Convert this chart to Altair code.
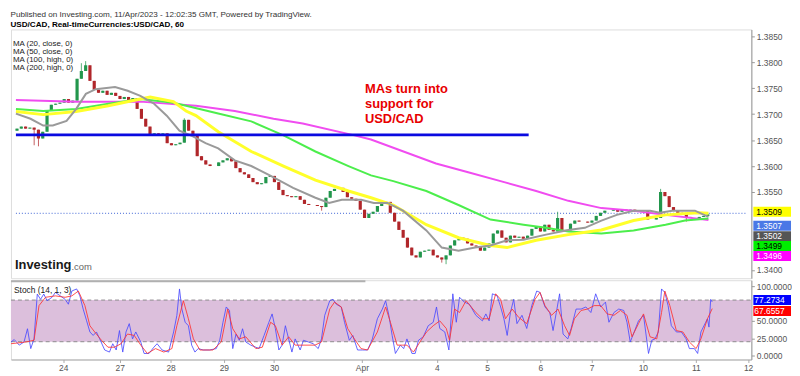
import altair as alt
import pandas as pd

FONT = "Liberation Sans, Arial, sans-serif"

TITLE_LINE = "Published on Investing.com, 11/Apr/2023 - 12:02:35 GMT, Powered by TradingView."
SUB_LINE = "USD/CAD, Real-timeCurrencies:USD/CAD, 60"
MA_LEGEND = ["MA (20, close, 0)", "MA (50, close, 0)", "MA (100, high, 0)", "MA (200, high, 0)"]
NOTE = ["MAs turn into", "support for", "USD/CAD"]
STOCH_LABEL = "Stoch (14, 1, 3)"

# x axis: hourly bar index (weekend gap removed)
tick_t = [24, 50, 73.4, 97.9, 121, 161.4, 195.8, 219, 243.4, 267, 290.6, 315, 339]
tick_lab = ["24", "27", "28", "29", "30", "Apr", "4", "5", "6", "7", "10", "11", "12"]
price_ticks = [1.3400, 1.3550, 1.3600, 1.3650, 1.3700, 1.3750, 1.3800, 1.3850]
stoch_ticks = [0, 25, 50, 100]

# candles (2-hour steps), close prices
closes = [
    1.3672, 1.3676, 1.3672, 1.3674, 1.3670, 1.3653, 1.3666, 1.3706, 1.3718, 1.3720,
    1.3722, 1.3729, 1.3722, 1.3726, 1.3768, 1.3783, 1.3794, 1.3764, 1.3747, 1.3741,
    1.3745, 1.3737, 1.3741, 1.3735, 1.3729, 1.3733, 1.3727, 1.3731, 1.3710, 1.3691,
    1.3676, 1.3661, 1.3663, 1.3659, 1.3663, 1.3644, 1.3640, 1.3642, 1.3645, 1.3689,
    1.3668, 1.3659, 1.3619, 1.3611, 1.3603, 1.3600, 1.3600, 1.3607, 1.3611, 1.3615,
    1.3609, 1.3596, 1.3588, 1.3584, 1.3577, 1.3569, 1.3565, 1.3567, 1.3579, 1.3581,
    1.3569, 1.3554, 1.3544, 1.3542, 1.3540, 1.3542, 1.3535, 1.3527, 1.3525, 1.3525,
    1.3523, 1.3521, 1.3539, 1.3552, 1.3556, 1.3558, 1.3550, 1.3540, 1.3537, 1.3533,
    1.3516, 1.3500, 1.3508, 1.3512, 1.3523, 1.3527, 1.3531, 1.3510, 1.3493, 1.3477,
    1.3462, 1.3443, 1.3428, 1.3424, 1.3435, 1.3437, 1.3439, 1.3428, 1.3424, 1.3420,
    1.3428, 1.3447, 1.3457, 1.3462, 1.3460, 1.3451, 1.3447, 1.3445, 1.3437, 1.3443,
    1.3451, 1.3470, 1.3476, 1.3462, 1.3453, 1.3466, 1.3462, 1.3464, 1.3460, 1.3466,
    1.3479, 1.3483, 1.3474, 1.3487, 1.3477, 1.3474, 1.3500, 1.3477, 1.3476, 1.3489,
    1.3495, 1.3493, 1.3493, 1.3491, 1.3495, 1.3504, 1.3510, 1.3514, 1.3514, 1.3516,
    1.3512, 1.3516, 1.3514, 1.3516, 1.3512, 1.3514, 1.3514, 1.3497, 1.3497, 1.3500,
    1.3550, 1.3542, 1.3521, 1.3514, 1.3510, 1.3508, 1.3502, 1.3500, 1.3497, 1.3502,
    1.3504, 1.3507,
]
first_open = 1.3668
spike_high = {15: 1.3798, 16: 1.3802, 39: 1.3692, 126: 1.3512, 150: 1.3556}
spike_low = {4: 1.3640, 5: 1.3638, 71: 1.3514, 99: 1.3414, 100: 1.3411, 156: 1.3493}

support_level = 1.3660
support_end_t = 239
last_level = 1.3509

ma20_t = [0, 6.8, 12.7, 17.2, 23.6, 28.1, 32.6, 37.2, 46.2, 52.1, 58, 64.4, 70.3, 76.2, 82.5,
          88.4, 94.3, 102, 109.7, 118.8, 129.2, 139.6, 146, 151.9, 160.9, 166.8, 173.2, 180.4,
          191.3, 198.5, 206.3, 214, 221.2, 228.9, 236.6, 247.1, 257.5, 265.2, 272.9, 280.1,
          287.9, 295.6, 300.1, 306, 316.5, 322.8]
ma20_p = [1.3701, 1.3691, 1.3678, 1.3678, 1.3687, 1.3710, 1.3739, 1.3748, 1.3752, 1.3745,
          1.3735, 1.3720, 1.3697, 1.3668, 1.3657, 1.3644, 1.3634, 1.3611, 1.3600, 1.3581,
          1.3558, 1.3539, 1.3529, 1.3535, 1.3535, 1.3529, 1.3529, 1.3514, 1.3476, 1.3443,
          1.3437, 1.3443, 1.3447, 1.3457, 1.3458, 1.3468, 1.3477, 1.3481, 1.3495, 1.3506,
          1.3514, 1.3514, 1.3510, 1.3514, 1.3514, 1.3502]

ma50_t = [0, 12.7, 28.1, 43.1, 58, 62.6, 73.4, 79.3, 83.9, 94.3, 109.7, 124.7, 139.6, 155,
          165.5, 175.9, 191.3, 206.3, 221.2, 228.9, 242.5, 257.5, 272.9, 287.9, 302.8, 318.2, 322.8]
ma50_p = [1.3705, 1.3699, 1.3705, 1.3716, 1.3729, 1.3733, 1.3724, 1.3706, 1.3697, 1.3666,
          1.3628, 1.3600, 1.3573, 1.3552, 1.3539, 1.3525, 1.3487, 1.3462, 1.3447, 1.3443,
          1.3457, 1.3468, 1.3477, 1.3495, 1.3506, 1.3510, 1.3509]

ma100_t = [0, 12.7, 28.1, 43.1, 58, 73.4, 79.3, 94.3, 109.7, 124.7, 139.6, 155, 165.5, 175.9,
           191.3, 206.3, 221.2, 236.6, 247.1, 257.5, 272.9, 287.9, 302.8, 311.9, 322.8]
ma100_p = [1.3710, 1.3706, 1.3710, 1.3720, 1.3729, 1.3722, 1.3716, 1.3701, 1.3686, 1.3659,
           1.3628, 1.3600, 1.3582, 1.3571, 1.3552, 1.3525, 1.3497, 1.3487, 1.3481, 1.3474,
           1.3470, 1.3476, 1.3487, 1.3495, 1.3499]

ma200_t = [0, 28.1, 58, 83.9, 102, 120.1, 133.7, 157.8, 165.5, 195.8, 210.8, 227.6, 242.5,
           257.5, 272.9, 287.9, 302.8, 322.8]
ma200_p = [1.3727, 1.3724, 1.3724, 1.3716, 1.3706, 1.3691, 1.3682, 1.3659, 1.3651, 1.3605,
           1.3588, 1.3569, 1.3552, 1.3533, 1.3519, 1.3514, 1.3506, 1.3496]

stk_t = [0, 1.5, 3.8, 6, 7.6, 9.1, 10.6, 12.1, 13.6, 15.1,
         16.6, 18.9, 20.4, 22.7, 24.9, 26.4, 28, 30.2, 31.7, 33.2,
         34.8, 36.3, 37.8, 39.3, 40.8, 43.1, 45.3, 46.8, 48.4, 49.9,
         51.4, 52.9, 54.4, 55.9, 57.4, 59.7, 61.2, 63.5, 65.7, 67.2,
         69.5, 72.5, 74.8, 76.3, 77.5, 78.6, 80.1, 81.6, 83.1, 84.6,
         86.1, 88.4, 91.4, 94.4, 96, 97.5, 99, 100.5, 102, 103.5,
         105, 106.5, 108, 110.3, 112.6, 114.1, 116.4, 118.6, 120.1, 121.6,
         123.2, 124.7, 126.2, 127.7, 129.2, 130.7, 133, 134.5, 136.8, 139,
         141.3, 142.8, 144.3, 146.6, 148.1, 149.6, 151.9, 153.4, 155.6, 157.2,
         159.4, 161.7, 164, 166.2, 168.5, 170.8, 172.3, 173.8, 175.3, 176.8,
         179.1, 180.6, 182.1, 184.4, 185.9, 187.4, 189.6, 191.9, 194.2, 195.7,
         197.2, 199.5, 201.4, 203.2, 204.8, 206.3, 208.5, 210.8, 213.8, 216.8,
         218.4, 219.9, 221.4, 223.6, 225.2, 226.7, 228.2, 229.7, 231.2, 232.7,
         235, 237.2, 239.5, 241.8, 243.3, 245.6, 247.8, 249.3, 250.8, 252.3,
         253.9, 256.1, 257.6, 259.9, 262.2, 264.4, 266.7, 268.9, 271.2, 273.4,
         275, 277.3, 279.5, 281.8, 283.3, 284.8, 286.6, 288.6, 290.9, 293.2,
         294.7, 296.2, 297.7, 299.2, 300.7, 302.2, 303.7, 306, 308.3, 310.5,
         312, 314.3, 315.8, 317.3, 319.5, 320.3, 321, 321.8, 322.5]
stk_v = [19.5, 23, 15, 19.5, 38.6, 10, 24, 88.6, 81, 88.6,
         79, 84, 91, 86, 81, 74, 93, 96, 86, 67,
         50, 34, 29, 34, 24, 8, 5, 17, 8, 36,
         5, 34, 46, 24, 34, 19.5, 3, 3, 12, 17,
         8, 5, 34, 58, 96, 67, 48, 43, 15, 5,
         10, 8, 8, 10, 22, 48, 70, 65, 10, 31,
         22, 38.6, 19.5, 15, 12, 10, 29, 48, 60, 38.6,
         8, 15, 43, 24, 5, 24, 8, 22, 19.5, 17,
         10, 24, 58, 79, 81, 74, 70, 48, 22, 29,
         8, 8, 8, 24, 53, 67, 79, 58, 29, 3,
         15, 10, 24, 3, 3, 22, 27, 43, 48, 70,
         39, 34, 8, 89, 48, 84, 77, 74, 58, 50,
         60, 50, 89, 86, 70, 53, 29, 62, 81, 46,
         58, 39, 72, 93, 91, 70, 62, 36, 62, 89,
         31, 24, 39, 67, 67, 70, 62, 89, 70, 77,
         48, 62, 67, 65, 48, 19.5, 34, 50, 58, 3,
         22, 24, 34, 96, 91, 72, 43, 34, 34, 24,
         10, 10, 3, 34, 48, 53, 41, 81, 77.27]

std_t = [0, 6.8, 10.6, 12.9, 15.9, 20.4, 24.9, 28, 31, 34,
         36.3, 38.5, 41.6, 44.6, 47.6, 50.6, 53.6, 56.7, 59.7, 62.7,
         66.5, 70.3, 74, 76.3, 79.3, 81.6, 83.9, 86.9, 92.9, 96.7,
         99.7, 102, 105, 108, 112.6, 115.6, 119.4, 121.6, 124.7, 127.7,
         130.7, 135.2, 139.8, 142.8, 146.6, 148.8, 151.9, 154.9, 157.9, 161,
         164, 168.5, 172.3, 174.5, 177.6, 180, 182.1, 185.1, 188.1, 191.1,
         194.2, 197.2, 200.2, 201.7, 204, 206.3, 209.3, 213.8, 216.8, 219.9,
         222.9, 225.2, 227.4, 230.5, 233.5, 237.2, 241, 243.3, 245.6, 248.6,
         251.6, 254.6, 256.9, 259.1, 262.2, 265.2, 268.2, 271.2, 274.2, 277.3,
         280.3, 283.3, 285.6, 288.6, 290.9, 293.9, 297, 299.2, 300.7, 303,
         306, 309, 312, 315.1, 317.3, 320.3, 322.5]
std_v = [17, 19.5, 22, 72, 84, 86, 84, 86, 93, 72,
         43, 34, 22, 12, 12, 17, 31, 29, 15, 3,
         10, 5, 10, 43, 79, 53, 24, 8, 8, 19.5,
         67, 38.6, 24, 27, 10, 12, 48, 43, 15, 27,
         15, 15, 15, 19.5, 67, 77, 70, 38.6, 24, 10,
         8, 34, 70, 48, 15, 15, 15, 5, 19.5, 34,
         43, 50, 39, 22, 67, 62, 79, 62, 53, 53,
         89, 81, 53, 67, 55, 46, 81, 91, 72, 58,
         67, 43, 29, 53, 65, 67, 72, 72, 60, 58,
         65, 58, 27, 46, 60, 27, 24, 62, 93, 72,
         36, 34, 19.5, 10, 24, 53, 67.66]

box_labels = ["1.3509", "1.3507", "1.3502", "1.3499", "1.3496"]
box_bg = ["#ffff00", "#4a78e6", "#555555", "#00ee00", "#ff00ff"]
box_fg = ["#000000", "#ffffff", "#ffffff", "#000000", "#ffffff"]
stoch_box_labels = ["77.2734", "67.6557"]
stoch_box_bg = ["#0000ff", "#ff0000"]

# ---------------- layout ----------------
W, H1, H2 = 747, 251, 80
P_DOM = [1.3384, 1.3863]
S_DOM = [-5.7, 108.6]
X_DOM = [0, 340.5]
box_center = [184, 198, 208.5, 218.5, 228.5]
stoch_box_center = [20, 31]

XS = alt.Scale(domain=X_DOM, nice=False, zero=False)
PS = alt.Scale(domain=P_DOM, nice=False, zero=False)
SS = alt.Scale(domain=S_DOM, nice=False, zero=False)

label_expr = "".join(f"datum.value == {v} ? '{l}' : " for v, l in zip(tick_t, tick_lab)) + "''"

P_AXIS = alt.Axis(orient="right", values=price_ticks, format=".4f", title=None, grid=False,
                  tickSize=3, labelFontSize=8.5, labelColor="#555", labelFont=FONT,
                  domainColor="#999", tickColor="#999", labelPadding=2)
S_AXIS = alt.Axis(orient="right", values=stoch_ticks, format=".4f", title=None, grid=False,
                  tickSize=3, labelFontSize=8.5, labelColor="#555", labelFont=FONT,
                  domainColor="#999", tickColor="#999", labelPadding=2)
X_AXIS = alt.Axis(orient="bottom", values=tick_t, labelExpr=label_expr, title=None, grid=False,
                  tickSize=3, labelFontSize=8.5, labelColor="#555", labelFont=FONT,
                  domainColor="#aaa", tickColor="#aaa", labelPadding=1)


def xp(f):
    return alt.X(f, type="quantitative", scale=XS, axis=None)


def xs(f):
    return alt.X(f, type="quantitative", scale=XS, axis=X_AXIS)


def yp(f):
    return alt.Y(f, type="quantitative", scale=PS, axis=P_AXIS)


def ys(f):
    return alt.Y(f, type="quantitative", scale=SS, axis=S_AXIS)


# candle table
opens = [first_open] + closes[:-1]
rows = []
for k, (o, c) in enumerate(zip(opens, closes)):
    hi = max(o, c, spike_high.get(k, 0))
    lo = min(o, c, spike_low.get(k, 9))
    rows.append({"t": 2 * k + 0.5, "o": o, "c": c, "hi": hi, "lo": lo,
                 "dir": "up" if c >= o else "down"})
cdf = pd.DataFrame(rows)
CCOL = alt.Color("dir:N", scale=alt.Scale(domain=["up", "down"], range=["#22964c", "#b0262a"]),
                 legend=None)

wicks = alt.Chart(cdf).mark_rule(strokeWidth=1, opacity=0.75).encode(
    x=xp("t"), y=yp("lo"), y2="hi", color=CCOL)
bodies = alt.Chart(cdf).mark_bar(size=3.2).encode(
    x=xp("t"), y=yp("o"), y2="c", color=CCOL)


def ma_line(ts, ps, color, width):
    df = pd.DataFrame({"t": ts, "p": ps})
    return alt.Chart(df).mark_line(color=color, strokeWidth=width).encode(x=xp("t"), y=yp("p"))


ma200 = ma_line(ma200_t, ma200_p, "#f04cf0", 2)
ma100 = ma_line(ma100_t, ma100_p, "#4cee4c", 2)
ma50 = ma_line(ma50_t, ma50_p, "#ffff2a", 3)
ma20 = ma_line(ma20_t, ma20_p, "#9a9a9a", 2)

sup = alt.Chart(pd.DataFrame({"a": [0], "b": [support_end_t], "p": [support_level]})).mark_rule(
    color="#0a0ae0", strokeWidth=3).encode(x=xp("a"), x2="b", y=yp("p"))
last = alt.Chart(pd.DataFrame({"a": [0], "b": [X_DOM[1]], "p": [last_level]})).mark_rule(
    color="#3d63d6", strokeWidth=1, strokeDash=[1, 2]).encode(x=xp("a"), x2="b", y=yp("p"))

txt_df = pd.DataFrame({"s": ["\n".join(MA_LEGEND)]})
legend = alt.Chart(txt_df).mark_text(
    align="left", baseline="top", font=FONT, fontSize=8, color="#222", lineBreak="\n",
    lineHeight=8).encode(x=alt.value(2), y=alt.value(11), text="s:N")

note_df = pd.DataFrame({"s": ["\n".join(NOTE)], "t": [162.7], "p": [1.37485]})
note = alt.Chart(note_df).mark_text(
    align="left", baseline="middle", font=FONT, fontSize=13, fontWeight="bold",
    color="#e80000", lineBreak="\n", lineHeight=15).encode(
    x=xp("t"), y=yp("p"), text="s:N")

logo1 = alt.Chart(pd.DataFrame({"s": ["Investing"]})).mark_text(
    align="left", baseline="middle", font=FONT, fontSize=13, fontWeight="bold",
    color="#1a1a1a").encode(x=alt.value(4), y=alt.value(238), text="s:N")
logo2 = alt.Chart(pd.DataFrame({"s": [".com"]})).mark_text(
    align="left", baseline="middle", font=FONT, fontSize=9.5, color="#666").encode(
    x=alt.value(61), y=alt.value(240), text="s:N")

price_layers = [last, wicks, bodies, ma200, ma100, ma50, ma20, sup, legend, note, logo1, logo2]
for lab, bg, fg, yc in zip(box_labels, box_bg, box_fg, box_center):
    bdf = pd.DataFrame({"s": [lab]})
    price_layers.append(alt.Chart(bdf).mark_rect(color=bg).encode(
        x=alt.value(W + 2), x2=alt.value(W + 40), y=alt.value(yc - 5), y2=alt.value(yc + 5)))
    price_layers.append(alt.Chart(bdf).mark_text(
        align="left", baseline="middle", font=FONT, fontSize=8.5, color=fg).encode(
        x=alt.value(W + 5), y=alt.value(yc), text="s:N"))

price = alt.layer(*price_layers).properties(width=W, height=H1)

# ---------------- stochastic pane ----------------
band = alt.Chart(pd.DataFrame({"a": [0], "b": [X_DOM[1]], "lo": [20], "hi": [80]})).mark_rect(
    color="#dcbfdc").encode(x=xs("a"), x2="b", y=ys("lo"), y2="hi")
dashes = alt.Chart(pd.DataFrame({"a": [0, 0], "b": [X_DOM[1]] * 2, "v": [20, 80]})).mark_rule(
    color="#a09aa0", strokeDash=[4, 3], strokeWidth=1.2).encode(x=xs("a"), x2="b", y=ys("v"))
sep = alt.Chart(pd.DataFrame({"a": [0], "b": [163]})).mark_rule(
    color="#b0b0b0", strokeWidth=2).encode(x=xs("a"), x2="b", y=alt.value(1))
kline = alt.Chart(pd.DataFrame({"t": stk_t, "v": stk_v})).mark_line(
    color="#4a4aff", strokeWidth=1, opacity=0.85).encode(x=xs("t"), y=ys("v"))
dline = alt.Chart(pd.DataFrame({"t": std_t, "v": std_v})).mark_line(
    color="#ff3030", strokeWidth=1, opacity=0.85).encode(x=xs("t"), y=ys("v"))
slabel = alt.Chart(pd.DataFrame({"s": [STOCH_LABEL]})).mark_text(
    align="left", baseline="middle", font=FONT, fontSize=8.5, color="#222").encode(
    x=alt.value(3), y=alt.value(10), text="s:N")

stoch_layers = [band, dashes, sep, kline, dline, slabel]
for lab, bg, yc in zip(stoch_box_labels, stoch_box_bg, stoch_box_center):
    bdf = pd.DataFrame({"s": [lab]})
    stoch_layers.append(alt.Chart(bdf).mark_rect(color=bg).encode(
        x=alt.value(W + 2), x2=alt.value(W + 40), y=alt.value(yc - 5), y2=alt.value(yc + 5)))
    stoch_layers.append(alt.Chart(bdf).mark_text(
        align="left", baseline="middle", font=FONT, fontSize=8.5, color="#ffffff").encode(
        x=alt.value(W + 3), y=alt.value(yc), text="s:N"))

stoch = alt.layer(*stoch_layers).properties(width=W, height=H2)

chart = alt.vconcat(price, stoch, spacing=0).properties(
    padding=0,
    title=alt.TitleParams(
        text=TITLE_LINE, subtitle=SUB_LINE, anchor="start", font=FONT, fontSize=8.2,
        fontWeight="normal", color="#333", subtitleFont=FONT, subtitleFontSize=8.2,
        subtitleFontWeight="bold", subtitleColor="#000", subtitlePadding=2, offset=0, dx=2),
).configure_view(stroke=None).configure(background="white")

chart.save("out.html", embed_options={"renderer": "svg", "actions": False})
